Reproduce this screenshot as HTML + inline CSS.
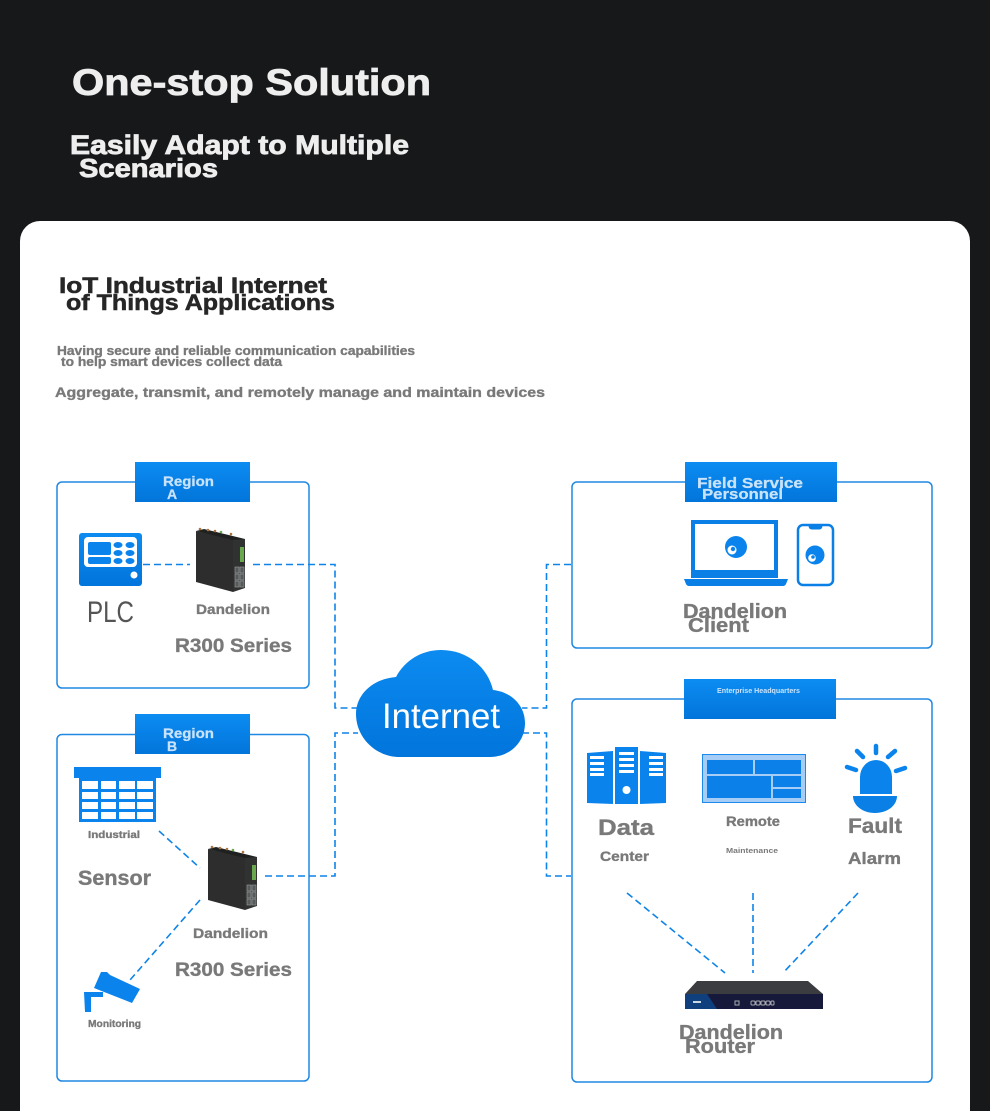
<!DOCTYPE html>
<html><head><meta charset="utf-8"><style>
html,body{margin:0;padding:0;background:#17181a;width:990px;height:1111px;overflow:hidden}
svg{display:block}
text{font-family:"Liberation Sans",sans-serif;font-weight:bold}
.g{fill:#797979;stroke:#797979;stroke-width:.35}
.t{fill:#c9e3fb;stroke:#c9e3fb;stroke-width:.25}
.h{fill:#eeeeee;stroke:#eeeeee;stroke-width:.8}
.k{fill:#262626;stroke:#262626;stroke-width:.5}
.d{fill:none;stroke:#0f84e8;stroke-width:1.6;stroke-dasharray:7 4}
.b{fill:#fff;stroke:#1e88e2;stroke-width:1.5}
</style></head><body>
<svg width="990" height="1111" viewBox="0 0 990 1111" xmlns="http://www.w3.org/2000/svg">
<defs>
<linearGradient id="tab" x1="0" y1="0" x2="0" y2="1"><stop offset="0" stop-color="#0c8cf2"/><stop offset="1" stop-color="#0275da"/></linearGradient>
<linearGradient id="blue" x1="0" y1="0" x2="0" y2="1"><stop offset="0" stop-color="#0c8bf0"/><stop offset="1" stop-color="#0175dc"/></linearGradient>
<g id="dev">
<polygon points="0,3 37,11 37,64 0,54" fill="#2c2d2c"/>
<polygon points="37,11 49,11 49,60 37,64" fill="#303232"/>
<polygon points="0,3 8,1 49,11 37,12" fill="#1f2020"/>
<rect x="44" y="19" width="4" height="15" fill="#6aa84f"/>
<g fill="#565a5a" stroke="#9a9d9d" stroke-width=".6"><rect x="39" y="39" width="4" height="6"/><rect x="44" y="39" width="4" height="6"/><rect x="39" y="46" width="4" height="6"/><rect x="44" y="46" width="4" height="6"/><rect x="39" y="53" width="4" height="6"/><rect x="44" y="53" width="4" height="6"/></g>
<circle cx="4" cy="1" r="1.300" fill="#a9743f"/><circle cx="12" cy="2" r="1.300" fill="#a9743f"/><circle cx="19" cy="3" r="1.300" fill="#a9743f"/><circle cx="25" cy="4" r="1.300" fill="#6aa84f"/><circle cx="35" cy="6" r="1.300" fill="#a9743f"/>
</g>
</defs>
<rect width="990" height="1111" fill="#17181a"/>
<path d="M20 1111V241a20 20 0 0 1 20-20H950a20 20 0 0 1 20 20V1111Z" fill="#fff"/>

<text x="72" y="95" font-size="37" class="h" textLength="359" lengthAdjust="spacingAndGlyphs">One-stop Solution</text>
<text x="70" y="154" font-size="26.500" class="h" textLength="339" lengthAdjust="spacingAndGlyphs">Easily Adapt to Multiple</text>
<text x="79" y="177" font-size="26" class="h" textLength="139" lengthAdjust="spacingAndGlyphs">Scenarios</text>

<text x="59" y="293" font-size="22" class="k" textLength="268" lengthAdjust="spacingAndGlyphs">IoT Industrial Internet</text>
<text x="66" y="310" font-size="22" class="k" textLength="269" lengthAdjust="spacingAndGlyphs">of Things Applications</text>
<text x="57" y="355" font-size="12.500" class="g" textLength="358" lengthAdjust="spacingAndGlyphs">Having secure and reliable communication capabilities</text>
<text x="61" y="366" font-size="12.500" class="g" textLength="221" lengthAdjust="spacingAndGlyphs">to help smart devices collect data</text>
<text x="55" y="397" font-size="14" class="g" textLength="490" lengthAdjust="spacingAndGlyphs">Aggregate, transmit, and remotely manage and maintain devices</text>

<!-- boxes -->
<rect class="b" x="57" y="482" width="252" height="206" rx="5"/>
<rect class="b" x="57" y="734.500" width="252" height="346.500" rx="5"/>
<rect class="b" x="572" y="482" width="360" height="166" rx="5"/>
<rect class="b" x="572" y="699" width="360" height="383" rx="5"/>
<rect x="135" y="462" width="115" height="40" fill="url(#tab)"/>
<rect x="135" y="714" width="115" height="40" fill="url(#tab)"/>
<rect x="685" y="462" width="152" height="40" fill="url(#tab)"/>
<rect x="684" y="679" width="152" height="40" fill="url(#tab)"/>
<text x="163" y="486" font-size="14" class="t" textLength="51" lengthAdjust="spacingAndGlyphs">Region</text>
<text x="167" y="499" font-size="14" class="t">A</text>
<text x="163" y="738" font-size="14" class="t" textLength="51" lengthAdjust="spacingAndGlyphs">Region</text>
<text x="167" y="751" font-size="14" class="t">B</text>
<text x="697" y="488" font-size="15" class="t" textLength="106" lengthAdjust="spacingAndGlyphs">Field Service</text>
<text x="702" y="499" font-size="15" class="t" textLength="81" lengthAdjust="spacingAndGlyphs">Personnel</text>
<text x="717" y="693" font-size="7" class="t" style="stroke:none" textLength="83" lengthAdjust="spacingAndGlyphs">Enterprise Headquarters</text>

<!-- connectors -->
<path class="d" d="M143 564.500H190"/>
<path class="d" d="M253 564.500H335V708H358"/>
<path class="d" d="M265 876H335V733H358"/>
<path class="d" d="M571 564.500H546.500V708H522"/>
<path class="d" d="M522 733H546.500V876H571"/>
<path class="d" d="M159 831L200 868"/>
<path class="d" d="M200 900L130 980"/>
<path class="d" d="M627 893L725 973"/>
<path class="d" d="M753 893V973"/>
<path class="d" d="M858 893L783 973"/>

<!-- PLC -->
<rect x="79" y="533" width="63" height="53" rx="3" fill="url(#blue)"/>
<rect x="84" y="537" width="53" height="30" rx="4" fill="#fff"/>
<rect x="88" y="542" width="23" height="13" rx="2" fill="#0a84ec"/>
<rect x="88" y="557" width="23" height="7" rx="2" fill="#0a84ec"/>
<g fill="#0a84ec"><ellipse cx="118" cy="545" rx="4.500" ry="3"/><ellipse cx="130" cy="545" rx="4.500" ry="3"/><ellipse cx="118" cy="553" rx="4.500" ry="3"/><ellipse cx="130" cy="553" rx="4.500" ry="3"/><ellipse cx="118" cy="561" rx="4.500" ry="3"/><ellipse cx="130" cy="561" rx="4.500" ry="3"/></g>
<circle cx="134" cy="575" r="3.500" fill="#fff"/>
<text x="87" y="622" font-size="30" fill="#555" style="font-weight:normal" textLength="47" lengthAdjust="spacingAndGlyphs">PLC</text>

<use href="#dev" x="196" y="528"/>
<text x="196" y="614" font-size="14" class="g" textLength="74" lengthAdjust="spacingAndGlyphs">Dandelion</text>
<text x="175" y="652" font-size="19.500" class="g" textLength="117" lengthAdjust="spacingAndGlyphs">R300 Series</text>

<!-- factory -->
<rect x="74" y="767" width="87" height="11" fill="#0a84ec"/>
<rect x="79" y="778" width="77" height="44" fill="#0a84ec"/>
<g fill="#fff">
<rect x="82" y="781" width="16" height="8"/><rect x="101" y="781" width="15" height="8"/><rect x="119" y="781" width="16" height="8"/><rect x="137" y="781" width="16" height="8"/>
<rect x="82" y="792" width="16" height="7"/><rect x="101" y="792" width="15" height="7"/><rect x="119" y="792" width="16" height="7"/><rect x="137" y="792" width="16" height="7"/>
<rect x="82" y="802" width="16" height="7"/><rect x="101" y="802" width="15" height="7"/><rect x="119" y="802" width="16" height="7"/><rect x="137" y="802" width="16" height="7"/>
<rect x="82" y="812" width="16" height="7"/><rect x="101" y="812" width="15" height="7"/><rect x="119" y="812" width="16" height="7"/><rect x="137" y="812" width="16" height="7"/>
</g>
<text x="88" y="838" font-size="10.500" class="g" textLength="52" lengthAdjust="spacingAndGlyphs">Industrial</text>
<text x="78" y="885" font-size="21" class="g" textLength="73" lengthAdjust="spacingAndGlyphs">Sensor</text>

<use href="#dev" x="208" y="846"/>
<text x="193" y="938" font-size="14" class="g" textLength="75" lengthAdjust="spacingAndGlyphs">Dandelion</text>
<text x="175" y="976" font-size="19.500" class="g" textLength="117" lengthAdjust="spacingAndGlyphs">R300 Series</text>

<!-- camera -->
<polygon points="94,988 101,972 107,972 110,975 140,989 132,1003" fill="#0a84ec"/>
<path d="M84 992H103V997H91V1012H85Z" fill="#0a84ec"/>
<text x="88" y="1027" font-size="10" class="g" textLength="53" lengthAdjust="spacingAndGlyphs">Monitoring</text>

<!-- cloud -->
<path d="M400 757C375 757 356 737 356 714C356 695 372 679 396 677C405 660 422 650 441 650C468 650 488 668 493 690C512 692 525 706 525 723C525 742 510 757 490 757Z" fill="url(#blue)"/>
<text x="382" y="728" font-size="35" fill="#fff" style="font-weight:normal" textLength="118" lengthAdjust="spacingAndGlyphs">Internet</text>

<!-- laptop -->
<rect x="691" y="520" width="87" height="58" fill="#0a7fe6"/>
<rect x="695" y="524" width="79" height="46" fill="#fff"/>
<path d="M684 579H788L786 584Q785 586 783 586H689Q687 586 686 584Z" fill="#0a7fe6"/>
<circle cx="736" cy="547" r="11" fill="#0a84ec"/><circle cx="732" cy="550" r="4.500" fill="#fff"/><circle cx="733" cy="549" r="2.200" fill="#0a84ec"/>
<rect x="798" y="525" width="35" height="60" rx="5" fill="#fff" stroke="#0a7fe6" stroke-width="2.500"/>
<path d="M808 524H823L822 528Q821 529.500 819 529.500H812Q810 529.500 809 528Z" fill="#0a7fe6"/>
<circle cx="815" cy="555" r="9.500" fill="#0a84ec"/><circle cx="812" cy="558" r="3.800" fill="#fff"/><circle cx="813" cy="557" r="1.800" fill="#0a84ec"/>
<text x="683" y="618" font-size="20" class="g" textLength="104" lengthAdjust="spacingAndGlyphs">Dandelion</text>
<text x="688" y="632" font-size="20" class="g" textLength="61" lengthAdjust="spacingAndGlyphs">Client</text>

<!-- servers -->
<polygon points="587,753 613,751 613,804 587,803" fill="#0a84ec"/>
<rect x="615" y="747" width="23" height="57" fill="#0a84ec"/>
<polygon points="640,751 666,753 666,803 640,804" fill="#0a84ec"/>
<g fill="#fff">
<rect x="590" y="756" width="14" height="3"/><rect x="590" y="762" width="14" height="3"/><rect x="590" y="768" width="14" height="3"/><rect x="590" y="773" width="14" height="3"/>
<rect x="619" y="752" width="15" height="3"/><rect x="619" y="758" width="15" height="3"/><rect x="619" y="764" width="15" height="3"/><rect x="619" y="770" width="15" height="3"/>
<rect x="649" y="756" width="14" height="3"/><rect x="649" y="762" width="14" height="3"/><rect x="649" y="768" width="14" height="3"/><rect x="649" y="773" width="14" height="3"/>
<circle cx="626.500" cy="790" r="4"/>
</g>
<text x="598" y="835" font-size="22" class="g" textLength="56" lengthAdjust="spacingAndGlyphs">Data</text>
<text x="600" y="861" font-size="14" class="g" textLength="49" lengthAdjust="spacingAndGlyphs">Center</text>

<!-- remote panel -->
<rect x="702" y="754" width="104" height="49" fill="#a6cdf6"/>
<rect x="702.500" y="754.500" width="103" height="48" fill="none" stroke="#1c8aec"/>
<g fill="#0a80e8">
<rect x="707" y="760" width="46" height="14"/><rect x="755" y="760" width="46" height="14"/>
<rect x="707" y="776" width="64" height="22"/><rect x="773" y="776" width="28" height="11"/><rect x="773" y="789" width="28" height="9"/>
</g>
<text x="726" y="826" font-size="13.500" class="g" textLength="54" lengthAdjust="spacingAndGlyphs">Remote</text>
<text x="726" y="853" font-size="7.500" class="g" style="stroke:none" textLength="52" lengthAdjust="spacingAndGlyphs">Maintenance</text>

<!-- alarm -->
<path d="M860 794V777A16 17 0 0 1 892 777V794Z" fill="#0a84ec"/>
<path d="M853 796H897C897 805 888 813 875 813C862 813 853 805 853 796Z" fill="#0a7fe6"/>
<g stroke="#0a84ec" stroke-width="4.500" stroke-linecap="round">
<path d="M876 746V753"/><path d="M857 751L863 757"/><path d="M888 757L895 751"/><path d="M847 767L856 770"/><path d="M896 771L905 768"/>
</g>
<text x="848" y="833" font-size="21" class="g" textLength="54" lengthAdjust="spacingAndGlyphs">Fault</text>
<text x="848" y="864" font-size="17" class="g" textLength="53" lengthAdjust="spacingAndGlyphs">Alarm</text>

<!-- router -->
<polygon points="697,981 808,981 823,994 685,994" fill="#3a3c40"/>
<rect x="685" y="994" width="138" height="15" fill="#17193a"/>
<polygon points="685,994 707,994 717,1009 685,1009" fill="#0f3f7d"/>
<rect x="693" y="1001" width="8" height="2" fill="#c9d6e6"/>
<g fill="none" stroke="#a8abb2" stroke-width="1"><rect x="735" y="1001" width="4" height="4"/><rect x="751" y="1001" width="4" height="4" rx="1"/><rect x="756" y="1001" width="4" height="4" rx="1"/><rect x="761" y="1001" width="4" height="4" rx="1"/><rect x="766" y="1001" width="4" height="4" rx="1"/><rect x="771" y="1001" width="3" height="4" rx="1"/></g>
<text x="679" y="1039" font-size="20" class="g" textLength="104" lengthAdjust="spacingAndGlyphs">Dandelion</text>
<text x="685" y="1053" font-size="20" class="g" textLength="70" lengthAdjust="spacingAndGlyphs">Router</text>
</svg>
</body></html>
